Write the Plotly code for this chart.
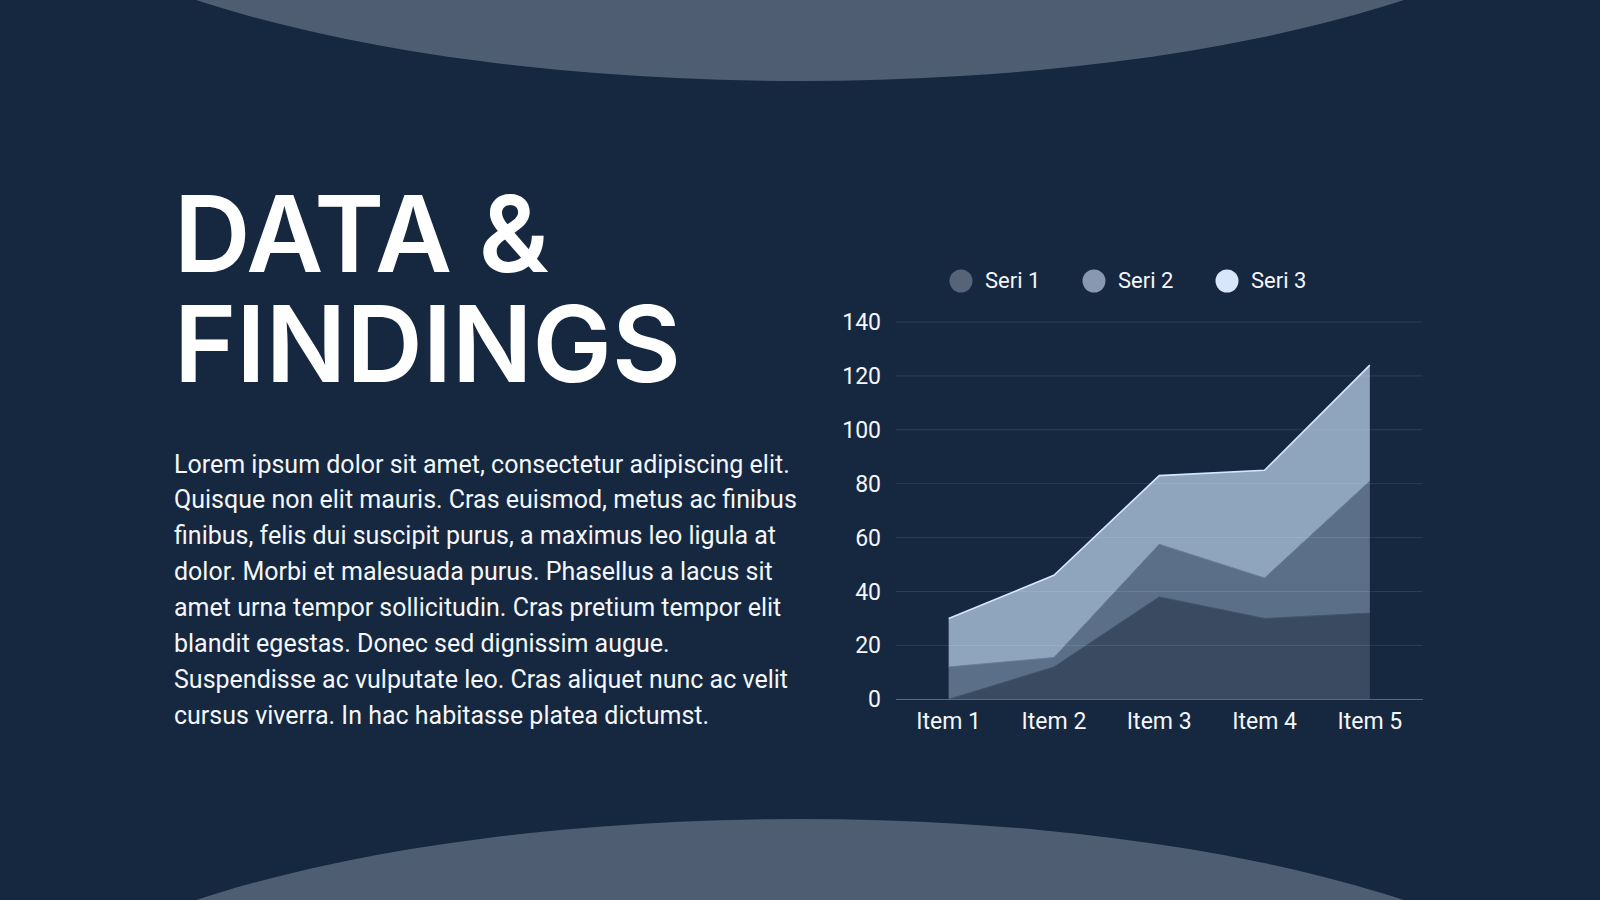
import plotly.graph_objects as go

# ---------------- data ----------------
categories = ["Item 1", "Item 2", "Item 3", "Item 4", "Item 5"]
series_names = ["Seri 1", "Seri 2", "Seri 3"]
seri1 = [0, 12, 38, 30, 32]
seri2 = [12, 3.5, 19.5, 15, 49]
seri3 = [18, 30.5, 25.5, 40, 43]
y_ticks = [0, 20, 40, 60, 80, 100, 120, 140]

title_lines = ["DATA &amp;", "FINDINGS"]
body_lines = [
    "Lorem ipsum dolor sit amet, consectetur adipiscing elit.",
    "Quisque non elit mauris. Cras euismod, metus ac finibus",
    "finibus, felis dui suscipit purus, a maximus leo ligula at",
    "dolor. Morbi et malesuada purus. Phasellus a lacus sit",
    "amet urna tempor sollicitudin. Cras pretium tempor elit",
    "blandit egestas. Donec sed dignissim augue.",
    "Suspendisse ac vulputate leo. Cras aliquet nunc ac velit",
    "cursus viverra. In hac habitasse platea dictumst.",
]

# ---------------- style ----------------
W, H = 1600, 900
BG = "#15283f"
ELLIPSE = "#4e5d71"
fill_colors = ["#3a4a60", "#5c6f88", "#8fa4bd"]
line_colors = ["#46566c", "#6d7f98", "#d6e6ff"]
line_widths = [1, 1, 1.6]
legend_colors = ["#576378", "#8898b0", "#d7e6fb"]
TEXT = "#f4f6f9"
GRID = "rgba(255,255,255,0.10)"
BODY_FONT = "Roboto"
TITLE_FONT = "Inter"


def px(x):
    return x / W


def py(y):
    return 1 - y / H


fig = go.Figure()

series = [seri1, seri2, seri3]
for name, vals, fc, lc, lw in zip(series_names, series, fill_colors, line_colors, line_widths):
    fig.add_trace(go.Scatter(
        x=categories, y=vals, name=name, mode="lines",
        stackgroup="one", fillcolor=fc,
        line=dict(color=lc, width=lw),
        showlegend=False, hoverinfo="skip",
    ))

# plot area in pixels (value 0 at PB, value 140 at PT)
PL, PR, PT, PB = 896, 1422.5, 322, 699.3
Y_MAX = 141
PT_DOM = PB - (PB - PT) * Y_MAX / 140

fig.update_layout(
    width=W, height=H,
    margin=dict(l=0, r=0, t=0, b=0, pad=0, autoexpand=False),
    paper_bgcolor=BG, plot_bgcolor="rgba(0,0,0,0)",
    showlegend=False,
    xaxis=dict(
        domain=[px(PL), px(PR)], range=[-0.5, 4.5], type="category",
        showgrid=False, zeroline=False,
        showline=True, linecolor="rgba(255,255,255,0.30)", linewidth=1,
        ticks="", ticklabelstandoff=1, automargin=False,
        tickfont=dict(family=BODY_FONT, size=23, color=TEXT),
        fixedrange=True,
    ),
    yaxis=dict(
        domain=[py(PB), py(PT_DOM)], range=[0, Y_MAX], tickvals=y_ticks,
        showgrid=False, zeroline=False, showline=False,
        ticks="", ticklabelstandoff=14, automargin=False,
        tickfont=dict(family=BODY_FONT, size=23, color=TEXT),
        fixedrange=True,
    ),
)

shapes = []
# background ellipses
shapes.append(dict(type="circle", xref="paper", yref="paper", layer="below",
                   x0=px(-26), x1=px(1626), y0=py(-429), y1=py(81),
                   fillcolor=ELLIPSE, line=dict(width=0)))
shapes.append(dict(type="circle", xref="paper", yref="paper", layer="below",
                   x0=px(-26), x1=px(1626), y0=py(819), y1=py(1329),
                   fillcolor=ELLIPSE, line=dict(width=0)))

# gridlines drawn above the areas (semi-transparent, like the reference)
for t in y_ticks[1:]:
    shapes.append(dict(type="line", xref="x domain", yref="y", layer="above",
                       x0=0, x1=1, y0=t, y1=t,
                       line=dict(color=GRID, width=1)))

# legend (manual, circular markers)
leg_x = [961, 1094, 1227]
leg_y = 281
r = 11.5
annotations = []
for name, col, cx in zip(series_names, legend_colors, leg_x):
    shapes.append(dict(type="circle", xref="paper", yref="paper",
                       x0=px(cx - r), x1=px(cx + r), y0=py(leg_y + r), y1=py(leg_y - r),
                       fillcolor=col, line=dict(width=0)))
    annotations.append(dict(xref="paper", yref="paper", x=px(cx + 22), y=py(leg_y),
                            xanchor="left", yanchor="middle", showarrow=False,
                            text=name, font=dict(family=BODY_FONT, size=22, color=TEXT)))

# title: one text block, tight leading (line pitch = 1.3 * base size)
title_text = "<br>".join('<span style="font-size:106px">%s</span>' % t for t in title_lines)
annotations.append(dict(xref="paper", yref="paper", x=px(172), y=py(288.5),
                        xanchor="left", yanchor="middle", showarrow=False, align="left",
                        text=title_text,
                        font=dict(family=TITLE_FONT, size=110.4 / 1.3, color="#ffffff", weight=600)))

# body text
for i, line in enumerate(body_lines):
    annotations.append(dict(xref="paper", yref="paper", x=px(172), y=py(464 + 35.9 * i),
                            xanchor="left", yanchor="middle", showarrow=False,
                            text=line, font=dict(family=BODY_FONT, size=25, color=TEXT)))

fig.update_layout(shapes=shapes, annotations=annotations)

fig.write_html("out.html", config={"displayModeBar": False, "staticPlot": True},
               post_script="document.body.style.margin='0';document.body.style.overflow='hidden';")
